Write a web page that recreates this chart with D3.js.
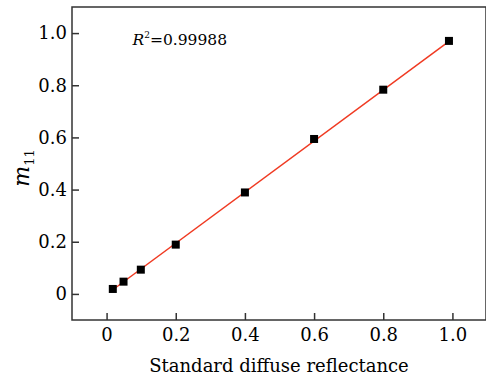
<!DOCTYPE html>
<html>
<head>
<meta charset="utf-8">
<script src="https://cdn.jsdelivr.net/npm/d3@7"></script>
<style>
  body { margin: 0; background: #fff; }
  svg { display: block; }
  .tick text { font-family: "DejaVu Serif", serif; }
</style>
</head>
<body>
<div id="chart"></div>
<script>
// measured points (standard diffuse reflectance vs m11)
const reflectance = [0.018, 0.049, 0.099, 0.2, 0.4, 0.6, 0.8, 0.99];
const m11 = [0.019, 0.047, 0.093, 0.189, 0.389, 0.594, 0.783, 0.970];

// fitted line end points
const fitX = [0.018, 0.99];
const fitY = [0.016, 0.968];

const xTicks = [0, 0.2, 0.4, 0.6, 0.8, 1.0];
const yTicks = [0, 0.2, 0.4, 0.6, 0.8, 1.0];
const r2Label = "0.99988";

const width = 486, height = 375;
const margin = { top: 7, right: 0, bottom: 55, left: 72 };

const svg = d3.select("#chart")
    .append("svg")
    .attr("width", width)
    .attr("height", height);

const x = d3.scaleLinear().domain([-0.1, 1.1]).range([margin.left, 487]);
const y = d3.scaleLinear().domain([-0.1, 1.1]).range([height - margin.bottom, margin.top]);

const fmt = d => d === 0 ? "0" : d3.format(".1f")(d);

// x axis, ticks pointing inward
const xAxis = svg.append("g")
    .attr("transform", `translate(0,${y(-0.1)})`)
    .call(d3.axisBottom(x).tickValues(xTicks).tickFormat(fmt).tickSizeInner(-7).tickSizeOuter(0).tickPadding(8));

const yAxis = svg.append("g")
    .attr("transform", `translate(${x(-0.1)},0)`)
    .call(d3.axisLeft(y).tickValues(yTicks).tickFormat(fmt).tickSizeInner(-7).tickSizeOuter(0).tickPadding(5));

[xAxis, yAxis].forEach(g => {
    g.select(".domain").remove();
    g.selectAll(".tick line").attr("stroke", "#333").attr("stroke-width", 1.5);
    g.selectAll(".tick text").attr("fill", "#000").attr("font-size", 18);
});

// frame
svg.append("rect")
    .attr("x", x(-0.1))
    .attr("y", y(1.1))
    .attr("width", x(1.1) - x(-0.1) - 1)
    .attr("height", y(-0.1) - y(1.1))
    .attr("fill", "none")
    .attr("stroke", "#333")
    .attr("stroke-width", 1.5);

// fit line
svg.append("line")
    .attr("x1", x(fitX[0])).attr("y1", y(fitY[0]))
    .attr("x2", x(fitX[1])).attr("y2", y(fitY[1]))
    .attr("stroke", "#f03a22")
    .attr("stroke-width", 1.5);

// markers
const s = 8;
svg.selectAll("rect.pt")
    .data(reflectance.map((d, i) => [d, m11[i]]))
    .join("rect")
    .attr("class", "pt")
    .attr("x", d => x(d[0]) - s / 2)
    .attr("y", d => y(d[1]) - s / 2)
    .attr("width", s)
    .attr("height", s)
    .attr("fill", "#000");

// R^2 annotation
const ann = svg.append("text")
    .attr("x", x(0.075))
    .attr("y", 45)
    .attr("font-family", "DejaVu Serif, serif")
    .attr("font-size", 15.5)
    .attr("fill", "#000");
ann.append("tspan").attr("font-style", "italic").text("R");
ann.append("tspan").attr("font-size", 9).attr("dy", -7).text("2");
ann.append("tspan").attr("dy", 7).text("=" + r2Label);

// axis titles
svg.append("text")
    .attr("x", 279)
    .attr("y", 372)
    .attr("text-anchor", "middle")
    .attr("font-family", "DejaVu Serif, serif")
    .attr("font-size", 18)
    .attr("fill", "#000")
    .text("Standard diffuse reflectance");

const yTitle = svg.append("text")
    .attr("transform", `translate(29,168) rotate(-90)`)
    .attr("text-anchor", "middle")
    .attr("font-family", "DejaVu Serif, serif")
    .attr("font-size", 22)
    .attr("fill", "#000");
yTitle.append("tspan").attr("font-style", "italic").text("m");
yTitle.append("tspan").attr("font-size", 13).attr("dy", 5).text("11");
</script>
</body>
</html>
